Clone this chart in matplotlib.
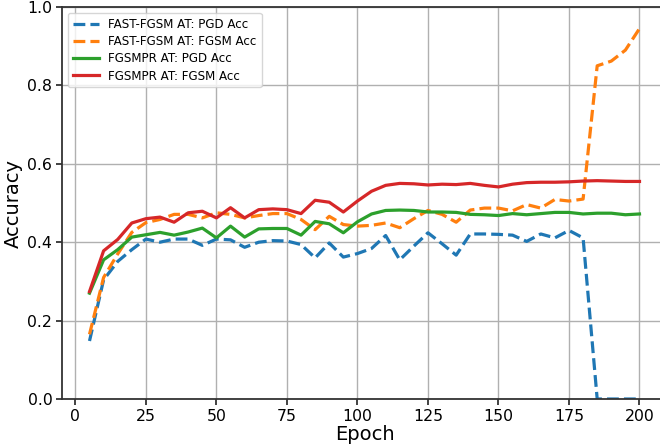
import matplotlib
matplotlib.use("Agg")
import matplotlib.pyplot as plt
import numpy as np

epochs = np.arange(5, 205, 5)

fast_pgd = [0.148, 0.304, 0.351, 0.381, 0.408, 0.400, 0.408, 0.408, 0.392, 0.408,
            0.406, 0.387, 0.400, 0.404, 0.403, 0.394, 0.360, 0.398, 0.362, 0.371,
            0.384, 0.417, 0.355, 0.390, 0.424, 0.396, 0.367, 0.421, 0.421, 0.420,
            0.418, 0.402, 0.421, 0.411, 0.430, 0.411, 0.0, 0.0, 0.0, 0.0]
fast_fgsm = [0.165, 0.310, 0.370, 0.425, 0.450, 0.458, 0.471, 0.471, 0.462, 0.475,
             0.471, 0.462, 0.468, 0.473, 0.473, 0.458, 0.432, 0.466, 0.445, 0.441,
             0.443, 0.449, 0.437, 0.460, 0.481, 0.471, 0.451, 0.482, 0.487, 0.487,
             0.480, 0.496, 0.487, 0.509, 0.505, 0.510, 0.850, 0.862, 0.890, 0.945]
pr_pgd = [0.270, 0.355, 0.381, 0.413, 0.419, 0.425, 0.418, 0.426, 0.436, 0.411,
          0.441, 0.413, 0.434, 0.435, 0.435, 0.418, 0.453, 0.447, 0.424, 0.452,
          0.472, 0.481, 0.482, 0.481, 0.477, 0.477, 0.476, 0.471, 0.470, 0.468,
          0.473, 0.470, 0.473, 0.476, 0.476, 0.472, 0.474, 0.474, 0.470, 0.472]
pr_fgsm = [0.274, 0.378, 0.407, 0.449, 0.460, 0.464, 0.451, 0.475, 0.479, 0.462,
           0.488, 0.462, 0.483, 0.485, 0.483, 0.473, 0.507, 0.502, 0.477, 0.505,
           0.530, 0.545, 0.550, 0.549, 0.546, 0.548, 0.547, 0.550, 0.545, 0.541,
           0.548, 0.552, 0.553, 0.553, 0.554, 0.556, 0.557, 0.556, 0.555, 0.555]

fig = plt.figure(figsize=(6.6, 4.45), dpi=100)
# axes runs a little past the right edge, like the cropped original
ax = fig.add_axes([62 / 660, 1 - 399 / 445, 605 / 660, 392 / 445])

lw = 2.3
ax.plot(epochs, fast_pgd, "--", color="tab:blue", lw=lw, label="FAST-FGSM AT: PGD Acc")
ax.plot(epochs, fast_fgsm, "--", color="tab:orange", lw=lw, label="FAST-FGSM AT: FGSM Acc")
ax.plot(epochs, pr_pgd, "-", color="tab:green", lw=lw, label="FGSMPR AT: PGD Acc")
ax.plot(epochs, pr_fgsm, "-", color="tab:red", lw=lw, label="FGSMPR AT: FGSM Acc")

ax.set_ylim(0, 1.0)
ax.set_xlim(-4.75, 209.75)
ax.set_xticks(np.arange(0, 201, 25))
ax.grid(True, color="#b0b0b0", lw=1.0)
ax.tick_params(labelsize=11.3, width=1.3, length=4, pad=3, color="#333333")
for s in ax.spines.values():
    s.set_linewidth(1.3)
    s.set_color("#333333")

ax.set_xlabel("Epoch", fontsize=14, labelpad=1)
ax.set_ylabel("Accuracy", fontsize=14, labelpad=3)

# fit legend to the size seen in the original (about 194 x 74 px)
fs = 8.4
leg = ax.legend(loc="upper left", fontsize=fs, handlelength=2.2)
fig.canvas.draw()
r = fig.canvas.get_renderer()
tw = max(t.get_window_extent(r).width for t in leg.get_texts())
fs = fs * 149 / tw
leg = ax.legend(loc="upper left", fontsize=fs, handlelength=2.2)
fig.canvas.draw()
h = leg.get_window_extent(r).height
ls = 0.5 + (74.4 - h) / 3 / (fs * 100 / 72)
leg = ax.legend(loc="upper left", fontsize=fs, handlelength=2.2, labelspacing=ls)

fig.savefig("out.png", dpi=100)
